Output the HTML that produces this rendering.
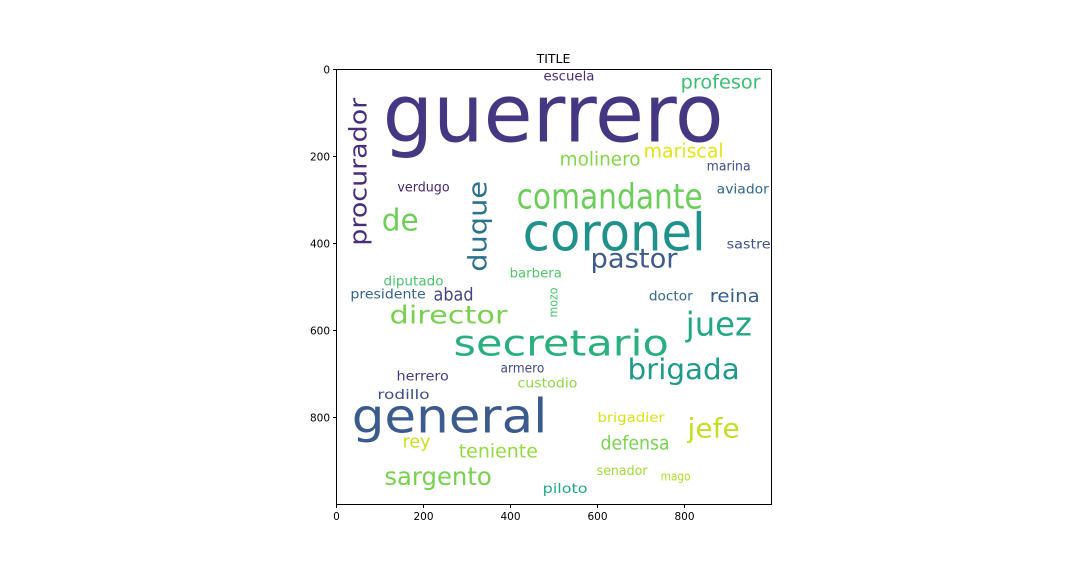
<!DOCTYPE html>
<html><head><meta charset="utf-8"><style>
html,body{margin:0;padding:0;background:#fff;}
svg{display:block;font-family:"DejaVu Sans","Liberation Sans",sans-serif;}
</style></head><body>
<svg id="chart" width="1080" height="576" viewBox="0 0 1080 576" xmlns="http://www.w3.org/2000/svg">
<rect width="1080" height="576" fill="#fff"/>
<text x="553.5" y="63" text-anchor="middle" font-size="12.5" fill="#000">TITLE</text>
<g id="words"></g>
<rect x="336.5" y="69.5" width="435" height="435" fill="none" stroke="#000" stroke-width="1"/>
<g id="axes"></g>
</svg>
<script>
const words=["guerrero","coronel","comandante","general","secretario","brigada","juez","director","sargento","jefe","pastor","de","profesor","escuela","mariscal","molinero","marina","verdugo","aviador","sastre","diputado","barbera","presidente","abad","doctor","reina","herrero","armero","custodio","rodillo","brigadier","rey","teniente","defensa","senador","mago","piloto","duque","procurador","mozo"];
const wordX=[106,428,414,35,269,669,803,122,110,807,584,104,791,476,706,513,851,140,874,897,108,398,32,223,718,858,138,377,416,94,600,152,281,607,598,745,474,345,69,508];
const wordY=[166,416,320,835,658,711,612,584,955,846,455,370,44,25,202,221,232,281,285,412,497,478,527,531,531,534,715,697,731,757,810,869,892,874,932,945,973,465,405,570];
const wordLen=[784,421,428,450,495,258,152,271,247,120,200,85,184,117,184,186,101,120,120,101,138,120,173,92,101,115,120,101,138,120,154,64,182,159,117,69,103,209,340,69];
const wordSize=[185,118,80,108,82,65,76,58,58,62,62,70,42,31,44,42,31,31,31,31,31,31,31,40,31,40,31,30,31,31,31,40,42,42,31,29,31,60,56,29];
const wordRot=[0,0,0,0,0,0,0,0,0,0,0,0,0,0,0,0,0,0,0,0,0,0,0,0,0,0,0,0,0,0,0,0,0,0,0,0,0,1,1,1];
const wordColor=["#453781","#21918c","#6ccd5a","#3b5a8e","#2ab07f","#1f9a8a","#22a785","#7ad151","#7ad151","#c2df23","#3f5b8e","#6ece58","#3dbc74","#482878","#e2e418","#86d549","#3d4e8a","#482475","#31688e","#3b528b","#4ac16d","#52c569","#33638d","#414487","#31688e","#355f8d","#443983","#3e4989","#8fd744","#3d4e8a","#d8e219","#c8e020","#95d840","#7ad151","#a0da39","#addc30","#21a685","#2c728e","#472d7b","#4ac16d"];
const xTicks=[0,200,400,600,800];
const yTicks=[0,200,400,600,800];
const X0=336.5,Y0=69.5,S=435/1000;
const sx=v=>X0+v*S, sy=v=>Y0+v*S, ss=v=>v*S;
const NS="http://www.w3.org/2000/svg";
const wg=document.getElementById('words');
words.forEach((w,i)=>{
  const t=document.createElementNS(NS,'text');
  
  
  const x=sx(wordX[i]),y=sy(wordY[i]);
  t.setAttribute('x',x);t.setAttribute('y',y);
  t.setAttribute('font-size',ss(wordSize[i]));
  t.setAttribute('textLength',ss(wordLen[i]));
  t.setAttribute('lengthAdjust','spacingAndGlyphs');
  t.setAttribute('fill',wordColor[i]);
  if(wordRot[i])t.setAttribute('transform','rotate(-90 '+x+' '+y+')');
  t.textContent=w;wg.appendChild(t);
});
const ag=document.getElementById('axes');
xTicks.forEach(v=>{
  const l=document.createElementNS(NS,'line');
  
  
  l.setAttribute('x1',sx(v));l.setAttribute('x2',sx(v));l.setAttribute('y1',504.5);l.setAttribute('y2',508);l.setAttribute('stroke','#000');
  ag.appendChild(l);
  const t=document.createElementNS(NS,'text');
  
  
  t.setAttribute('x',sx(v));t.setAttribute('y',520);t.setAttribute('text-anchor','middle');t.setAttribute('font-size','10.5');
  t.textContent=v;ag.appendChild(t);
});
yTicks.forEach(v=>{
  const l=document.createElementNS(NS,'line');
  
  
  l.setAttribute('x1',333);l.setAttribute('x2',336.5);l.setAttribute('y1',sy(v));l.setAttribute('y2',sy(v));l.setAttribute('stroke','#000');
  ag.appendChild(l);
  const t=document.createElementNS(NS,'text');
  
  
  t.setAttribute('x',330);t.setAttribute('y',sy(v)+4);t.setAttribute('text-anchor','end');t.setAttribute('font-size','10.5');
  t.textContent=v;ag.appendChild(t);
});
</script>
</body></html>
